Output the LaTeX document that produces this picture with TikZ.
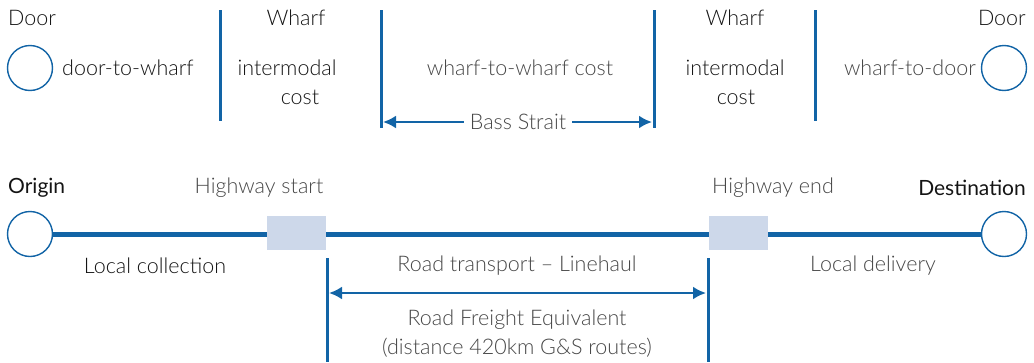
\documentclass[tikz,border=0pt]{standalone}
\usepackage{fontspec}
\setmainfont{Lato Light}
\newfontfamily\strongfont{Lato}
\usetikzlibrary{arrows.meta}
\definecolor{lineblue}{RGB}{18,100,166}
\definecolor{boxfill}{RGB}{205,216,234}
\definecolor{ink}{RGB}{20,20,20}
\definecolor{softink}{RGB}{70,70,70}
\tikzset{
  lbl/.style={font=\fontsize{21.5}{25}\selectfont, text=ink, inner sep=0pt, anchor=center},
  softlbl/.style={lbl, text=softink},
  endpt/.style={circle, draw=lineblue, line width=1.4pt, fill=white, minimum size=45pt, inner sep=0pt},
  divider/.style={draw=lineblue, line width=3pt},
  span/.style={draw=lineblue, line width=2.5pt, {Latex[length=13pt,width=13pt]}-{Latex[length=13pt,width=13pt]}},
  hwbox/.style={fill=boxfill, minimum width=59pt, minimum height=34pt, inner sep=0pt},
  road/.style={draw=lineblue, line width=5pt}
}
\begin{document}
\begin{tikzpicture}[x=1pt,y=-1pt]
\useasboundingbox (0,0) rectangle (1034,362);

% ---------- sea freight legs ----------
\node[lbl, anchor=west] (doorL) at (8,18) {Door};
\node[endpt] (circL) at (30,68) {};
\node[lbl, anchor=west] (d2w) at (62,68) {door-to-wharf};

\coordinate (v1t) at (220,10); \coordinate (v1b) at (220,121);
\draw[divider] (v1t) -- (v1b);

\node[lbl] (wharfL) at (296,18) {Wharf};
\node[lbl] (imL) at (287,68) {intermodal};
\node[lbl] (costL) at (300,97) {cost};

\coordinate (v2t) at (381,10); \coordinate (v2b) at (381,128);
\coordinate (v3t) at (654,10); \coordinate (v3b) at (654,128);
\draw[divider] (v2t) -- (v2b);
\draw[divider] (v3t) -- (v3b);

\node[softlbl] (w2w) at (520,68) {wharf-to-wharf cost};
\coordinate (bsL) at (383,122); \coordinate (bsR) at (652,122);
\draw[span] (bsL) -- (bsR);
\node[softlbl, fill=white, inner xsep=6pt, inner ysep=2pt] (bass) at (518,122) {Bass Strait};

\node[lbl] (wharfR) at (735,18) {Wharf};
\node[lbl] (imR) at (735,68) {intermodal};
\node[lbl] (costR) at (736,97) {cost};

\coordinate (v4t) at (815,10); \coordinate (v4b) at (815,121);
\draw[divider] (v4t) -- (v4b);

\node[lbl, anchor=east] (doorR) at (1026,18) {Door};
\node[softlbl, anchor=east] (w2d) at (976,68) {wharf-to-door};
\node[endpt] (circR) at (1004,68) {};

% ---------- road freight equivalent ----------
\node[lbl, anchor=west, font=\strongfont\fontsize{21}{25}\selectfont] (orig) at (8,188) {Origin};
\node[lbl, anchor=east, font=\strongfont\fontsize{21}{25}\selectfont] (dest) at (1026,188) {Destination};
\node[endpt] (oc) at (30,234) {};
\node[endpt] (dc) at (1004,234) {};
\node[hwbox] (hs) at (296.5,233) {};
\node[hwbox] (he) at (738.5,233) {};
\coordinate (r1) at (296.5,234); \coordinate (r2) at (738.5,234);
\draw[road] (oc.east) -- (hs.west |- oc.east);
\draw[road] (hs.east |- oc.east) -- (he.west |- oc.east);
\draw[road] (he.east |- oc.east) -- (dc.west);

\node[softlbl] (hsl) at (259,188) {Highway start};
\node[softlbl] (hel) at (773,188) {Highway end};

\node[lbl] (lc) at (155,266) {Local collection};
\node[softlbl] (rt) at (517,266) {Road transport -- Linehaul};
\node[softlbl] (ld) at (873,266) {Local delivery};

\coordinate (v5t) at (327,258); \coordinate (v5b) at (327,362);
\coordinate (v6t) at (708,258); \coordinate (v6b) at (708,362);
\draw[divider] (v5t) -- (v5b);
\draw[divider] (v6t) -- (v6b);
\coordinate (rfL) at (329,293); \coordinate (rfR) at (706,293);
\draw[span] (rfL) -- (rfR);

\node[softlbl] (rfe) at (517,320) {Road Freight Equivalent};
\node[softlbl] (dist) at (517,348) {(distance 420km G\&S routes)};
\end{tikzpicture}
\end{document}
